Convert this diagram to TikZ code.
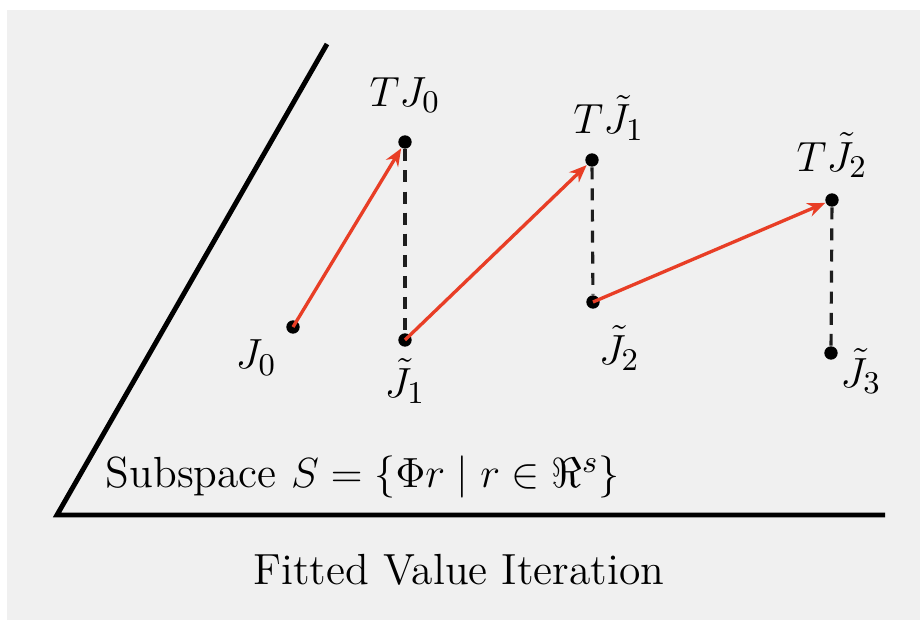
\documentclass[tikz,border=0pt]{standalone}
\usepackage{amsmath,amssymb}
\usetikzlibrary{arrows.meta,positioning}
\definecolor{fvibg}{RGB}{240,240,240}
\definecolor{fvired}{RGB}{232,62,38}
\definecolor{fvidash}{RGB}{30,30,30}

\begin{document}
\begin{tikzpicture}[
    dot/.style={circle,fill=black,inner sep=0pt,minimum size=3.8pt},
    lbl/.style={font=\fontsize{12.4}{15}\selectfont,inner sep=1pt},
    step arrow/.style={fvired,line width=0.95pt,-{Stealth[length=5pt,width=4pt]}},
    proj/.style={fvidash,line width=0.9pt,dash pattern=on 3.4pt off 2.6pt}]
        \useasboundingbox (0,0) rectangle (9.2,6.2);
        \fill[fvibg] (0.07,0) rectangle (9.2,6.1);
        % subspace
        \draw[line width=1.4pt] (3.27,5.76)--(0.57,1.05)--(8.85,1.05);
        \node[lbl] (sub) at (3.63,1.43) {Subspace $S=\{\Phi r\mid r\in\Re^s\}$};
        \node[lbl] (title) at (4.59,0.50) {Fitted Value Iteration};
        % iterates
        \node[dot] (J0) at (2.93,2.93) {};
        \node[dot] (TJ0) at (4.05,4.78) {};
        \node[dot] (J1) at (4.05,2.80) {};
        \node[dot] (TJ1) at (5.92,4.60) {};
        \node[dot] (J2) at (5.93,3.18) {};
        \node[dot] (TJ2) at (8.32,4.20) {};
        \node[dot] (J3) at (8.31,2.67) {};
        \node[lbl,below left=1pt and 2pt of J0] (lJ0) {$J_0$};
        \node[lbl,above=5pt of TJ0] (lTJ0) {$TJ_0$};
        \node[lbl,below=2pt of J1] (lJ1) {$\tilde J_1$};
        \node[lbl,above right=3pt and -8pt of TJ1] (lTJ1) {$T\tilde J_1$};
        \node[lbl,below right=4pt and -1pt of J2] (lJ2) {$\tilde J_2$};
        \node[lbl,above=3pt of TJ2] (lTJ2) {$T\tilde J_2$};
        \node[lbl,below right=-4pt and 0pt of J3] (lJ3) {$\tilde J_3$};
        \draw[step arrow] (J0.center)--(TJ0);
        \draw[step arrow] (J1.center)--(TJ1);
        \draw[step arrow] (J2.center)--(TJ2);
        \draw[proj] (TJ0)--(J1);
        \draw[proj] (TJ1)--(J2);
        \draw[proj] (TJ2)--(J3);
      \end{tikzpicture}
\end{document}
